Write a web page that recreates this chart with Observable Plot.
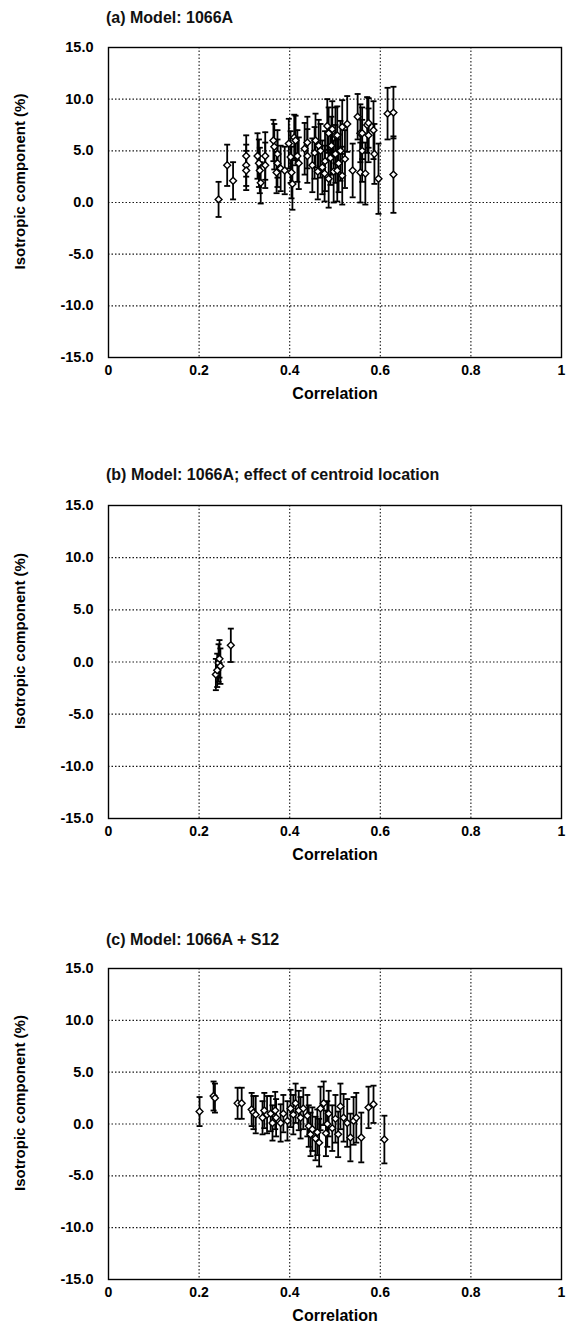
<!DOCTYPE html>
<html><head><meta charset="utf-8">
<script src="https://cdn.jsdelivr.net/npm/d3@7"></script>
<script src="https://cdn.jsdelivr.net/npm/@observablehq/plot@0.6"></script>
<style>
body{margin:0;background:#fff;width:569px;height:1341px;position:relative;font-family:"Liberation Sans",Arial,sans-serif;}
.panel{position:absolute;left:0;width:569px;}
.title{position:absolute;left:106px;font-size:16px;font-weight:bold;color:#111;white-space:nowrap;line-height:18px;}
</style></head><body>
<script>
// ---- Data ----
const titles = ["(a) Model: 1066A", "(b) Model: 1066A; effect of centroid location", "(c) Model: 1066A + S12"];
const xTicks = [0, 0.2, 0.4, 0.6, 0.8, 1];
const xTickLabels = ["0", "0.2", "0.4", "0.6", "0.8", "1"];
const yTicks = [-15, -10, -5, 0, 5, 10, 15];
const yTickLabels = ["-15.0", "-10.0", "-5.0", "0.0", "5.0", "10.0", "15.0"];
const xLabel = "Correlation";
const yLabel = "Isotropic component (%)";

// Panel (a)
const aCorr = [0.243,0.262,0.275,0.304,0.304,0.304,0.329,0.332,0.334,0.336,0.346,0.346,0.364,0.366,0.373,0.373,0.371,0.38,0.389,0.398,0.402,0.404,0.406,0.410,0.413,0.417,0.42,0.433,0.439,0.439,0.450,0.455,0.457,0.462,0.464,0.468,0.472,0.477,0.478,0.483,0.486,0.486,0.490,0.492,0.494,0.497,0.501,0.501,0.505,0.505,0.508,0.512,0.516,0.516,0.522,0.527,0.539,0.550,0.556,0.556,0.560,0.560,0.567,0.571,0.574,0.574,0.585,0.587,0.596,0.616,0.629,0.629];
const aVal  = [0.3,3.6,2.1,4.5,3.6,3.1,4.5,3.8,3.1,1.9,4.5,3.6,6.0,5.4,4.7,3.8,2.9,3.3,3.1,5.7,4.4,2.9,1.8,6.3,6.0,4.5,3.8,5.2,5.8,4.5,3.6,4.8,6.0,3.0,5.5,5.0,3.4,2.8,4.0,7.4,6.7,2.3,4.3,5.5,7.1,3.0,6.5,4.7,6.5,3.1,3.8,5.0,7.3,2.6,4.2,7.6,3.1,8.3,6.7,2.9,5.0,6.7,2.8,7.5,7.7,6.5,7.0,4.7,2.3,8.6,8.7,2.7];
const aErr  = [1.7,2.0,1.8,2.0,2.0,1.9,2.2,2.3,2.2,2.0,2.3,2.2,2.0,2.2,2.3,2.3,2.0,2.2,2.3,2.4,2.5,2.5,2.5,2.2,2.4,2.5,2.5,2.5,2.5,2.6,2.6,2.5,2.6,2.7,2.5,2.6,2.6,2.7,2.9,2.6,2.5,2.8,2.6,2.8,2.7,3.0,2.7,2.8,2.8,3.0,2.8,2.9,2.6,2.8,2.8,2.7,2.6,2.2,2.8,2.9,3.0,2.5,3.0,2.7,2.4,2.6,2.8,2.9,3.4,2.5,2.5,3.7];

// Panel (b)
const bCorr = [0.237,0.240,0.243,0.245,0.247,0.270];
const bVal  = [-1.2,-0.8,-0.1,0.3,-0.4,1.6];
const bErr  = [1.5,1.6,1.8,1.8,1.7,1.6];

// Panel (c)
const cCorr = [0.201,0.232,0.235,0.285,0.294,0.316,0.320,0.325,0.340,0.344,0.350,0.358,0.362,0.368,0.370,0.380,0.386,0.395,0.402,0.408,0.413,0.420,0.424,0.430,0.439,0.442,0.446,0.450,0.457,0.461,0.465,0.468,0.475,0.480,0.483,0.486,0.494,0.501,0.507,0.512,0.519,0.527,0.534,0.541,0.547,0.558,0.574,0.585,0.609];
const cVal  = [1.2,2.7,2.5,2.0,2.0,1.4,1.1,0.9,0.6,1.3,0.9,1.0,0.1,1.3,0.6,0.1,1.0,0.3,1.5,0.9,2.0,1.3,0.6,1.5,0.8,-0.2,-1.0,-0.5,-1.4,-0.8,-1.8,1.5,2.0,-0.9,0.0,1.0,-0.4,0.5,-1.0,1.7,0.6,0.1,-1.3,0.3,0.6,-1.3,1.6,1.9,-1.5];
const cErr  = [1.4,1.4,1.4,1.5,1.5,1.6,1.6,1.8,1.6,1.7,1.8,1.7,1.7,1.8,1.8,1.8,1.8,1.9,1.8,1.9,1.9,1.9,2.0,2.0,2.0,2.0,2.1,2.1,2.1,2.2,2.3,2.1,2.1,2.2,2.2,2.2,2.2,2.3,2.2,2.2,2.3,2.3,2.3,2.3,2.4,2.4,2.0,1.8,2.3];

// ---- Layout ----
const panels = [
  {corr:aCorr, val:aVal, err:aErr, title:titles[0], titleTop:9, svgTop:30, plotH:310},
  {corr:bCorr, val:bVal, err:bErr, title:titles[1], titleTop:466, svgTop:488, plotH:313},
  {corr:cCorr, val:cVal, err:cErr, title:titles[2], titleTop:931, svgTop:951, plotH:311}
];

const cap = {draw(ctx, size){ const r = Math.sqrt(size/Math.PI); ctx.moveTo(-r,0); ctx.lineTo(r,0);} };
const font = '"Liberation Sans", Arial, sans-serif';

for (const p of panels) {
  const data = p.corr.map((c,i)=>({c, v:p.val[i], e:p.err[i]}));
  const t = document.createElement("div");
  t.className = "title"; t.style.top = p.titleTop + "px"; t.textContent = p.title;
  document.body.appendChild(t);
  const mt = 17, mb = 50;
  const chart = Plot.plot({
    width: 569, height: mt + p.plotH + mb,
    marginLeft: 108, marginRight: 8, marginTop: mt, marginBottom: mb,
    style: {fontFamily: font, fontSize: "14px", fontWeight: "bold", background: "white", color: "black", overflow: "visible"},
    x: {domain: [0, 1]},
    y: {domain: [-15, 15]},
    marks: [
      Plot.gridX([0.2,0.4,0.6,0.8], {stroke: "#000", strokeOpacity: 0.9, strokeWidth: 1.1, strokeDasharray: "1.5,2"}),
      Plot.gridY([-10,-5,0,5,10], {stroke: "#000", strokeOpacity: 0.9, strokeWidth: 1.1, strokeDasharray: "1.5,2"}),
      Plot.frame({stroke: "#000", strokeWidth: 1.4}),
      Plot.axisX({ticks: xTicks, tickFormat: d=>xTickLabels[xTicks.indexOf(d)], tickSize: 0, tickPadding: 8, label: null, fontSize: 14}),
      Plot.axisY({ticks: yTicks, tickFormat: d=>yTickLabels[yTicks.indexOf(d)], tickSize: 0, tickPadding: 15, label: null, fontSize: 14.5}),
      Plot.text([xLabel], {text: d=>d, frameAnchor: "bottom", dy: 36, fontSize: 16, fontWeight: "bold", lineAnchor: "middle"}),
      Plot.text([yLabel], {text: d=>d, frameAnchor: "left", rotate: -90, dx: -88, dy: -21, fontSize: 15, fontWeight: "bold", lineAnchor: "middle", textAnchor: "middle"}),
      Plot.ruleX(data, {x: "c", y1: d=>d.v-d.e, y2: d=>d.v+d.e, stroke: "#000", strokeWidth: 1.8}),
      Plot.dot(data, {x: "c", y: d=>d.v-d.e, symbol: cap, r: 3, fill: "none", stroke: "#000", strokeWidth: 1.8}),
      Plot.dot(data, {x: "c", y: d=>d.v+d.e, symbol: cap, r: 3, fill: "none", stroke: "#000", strokeWidth: 1.8}),
      Plot.dot(data, {x: "c", y: "v", symbol: "diamond2", r: 3.1, fill: "white", stroke: "#000", strokeWidth: 1.4})
    ]
  });
  const wrap = document.createElement("div");
  wrap.className = "panel"; wrap.style.top = p.svgTop + "px";
  wrap.appendChild(chart);
  document.body.appendChild(wrap);
}
</script>
</body></html>
